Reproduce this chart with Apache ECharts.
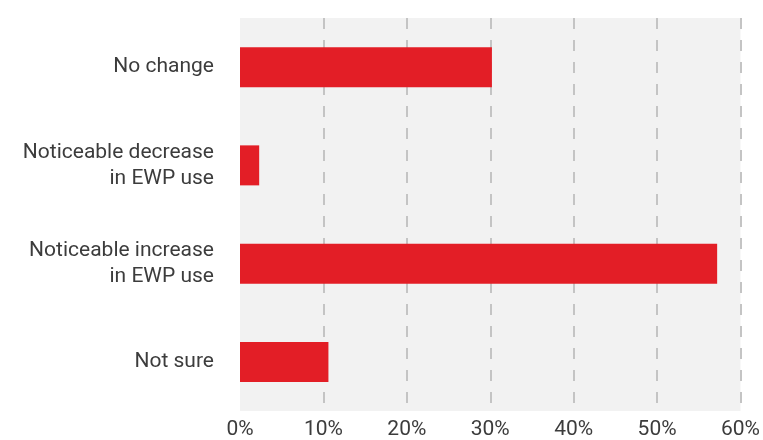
<!DOCTYPE html>
<html>
<head>
<meta charset="utf-8">
<script src="https://cdn.jsdelivr.net/npm/echarts@6/dist/echarts.min.js"></script>
<style>
  html, body { margin: 0; padding: 0; background: #ffffff; }
  #chart { width: 763px; height: 440px; }
</style>
</head>
<body>
<div id="chart"></div>
<script>
// Survey responses: change in EWP use
const categories = [
  'No change',
  'Noticeable decrease\nin EWP use',
  'Noticeable increase\nin EWP use',
  'Not sure'
];
const shares = [30.2, 2.3, 57.2, 10.6];
const tickValues = [0, 10, 20, 30, 40, 50, 60];

const chart = echarts.init(document.getElementById('chart'), null, { renderer: 'canvas' });

const labelFont = 'Roboto, "DejaVu Sans", sans-serif';

chart.setOption({
  animation: false,
  backgroundColor: '#ffffff',
  grid: {
    left: 240,
    right: 22,
    top: 18,
    bottom: 23,
    show: true,
    backgroundColor: '#f2f2f2',
    borderWidth: 0
  },
  xAxis: {
    type: 'value',
    min: tickValues[0],
    max: tickValues[tickValues.length - 1],
    interval: 10,
    axisLine: { show: false },
    axisTick: { show: false },
    axisLabel: {
      formatter: v => v + '%',
      color: '#3c3c3c',
      fontFamily: labelFont,
      fontSize: 21,
      letterSpacing: 0.5,
      margin: 8
    },
    splitLine: {
      show: true,
      showMinLine: false,
      lineStyle: { color: '#c4c4c4', width: 2, type: [11, 11] }
    }
  },
  yAxis: {
    type: 'category',
    data: categories,
    inverse: true,
    axisLine: { show: false },
    axisTick: { show: false },
    axisLabel: {
      color: '#3c3c3c',
      fontFamily: labelFont,
      fontSize: 21,
      letterSpacing: 0.5,
      lineHeight: 26,
      margin: 26,
      align: 'right',
      padding: [0, 0, 4, 0]
    },
    splitLine: { show: false }
  },
  series: [{
    type: 'bar',
    data: shares,
    barWidth: 40,
    itemStyle: { color: '#e31e26' },
    z: 3
  }]
});
</script>
</body>
</html>
